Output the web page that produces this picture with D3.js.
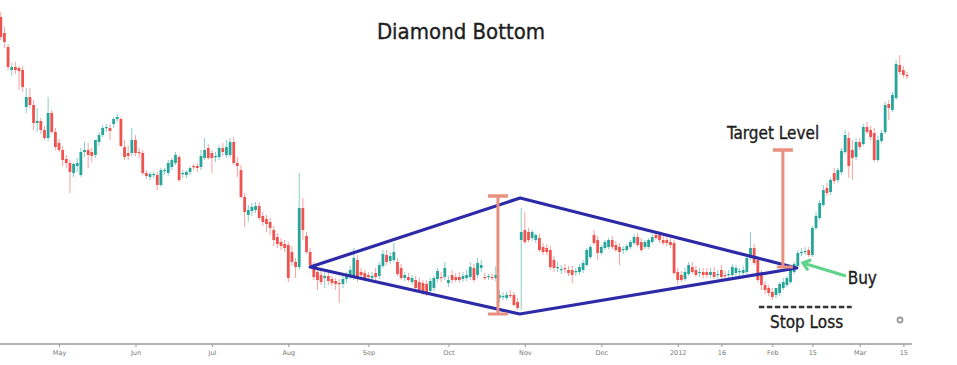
<!DOCTYPE html>
<html>
<head>
<meta charset="utf-8">
<script src="https://cdn.jsdelivr.net/npm/d3@7"></script>
<style>
  body { margin: 0; background: #fff; }
  svg { display: block; }
  .note { font-family: "DejaVu Sans Condensed", "DejaVu Sans", sans-serif; font-stretch: condensed; fill: #1e1e1e; stroke: #1e1e1e; stroke-width: 0.35px; }
  .axis text { font-family: "DejaVu Sans", sans-serif; font-size: 6.5px; fill: #777; }
  .axis line { stroke: #999; }
</style>
</head>
<body>
<script>
// daily candles, [open, high, low, close]
var springCandles = [
  [383,388,360,363],[367,373,352,358],[353,356,330,333],[330,337,324,333],[333,338,326,330],
  [332,334,310,329],[330,334,308,313],[293,312,287,303],[303,312,292,295],[295,300,270,277],
  [277,292,268,279],[279,282,266,270],[270,274,260,262],[262,303,259,287],[287,290,266,268],
  [268,272,250,253],[257,261,248,250],[250,254,234,240],[241,245,232,237],[237,240,207,228],
  [227,237,223,236],[234,242,228,237],[225,252,223,248],[248,258,243,250],[250,257,232,245],
  [248,252,238,244],[245,260,242,260],[258,268,254,265],[265,275,263,272],[272,276,268,273],
  [272,276,260,269],[276,283,272,281],[281,286,278,283],[281,283,253,254],[253,260,240,243],
  [247,255,240,244],[247,272,244,260],[260,265,244,247],[248,252,242,247],[247,250,225,227]
];
var summerCandles = [
  [227,230,221,224],[223,228,220,226],[225,228,222,226],[225,228,210,215],[215,232,213,230],
  [229,232,225,230],[227,240,224,237],[233,242,230,240],[237,248,235,245],[243,245,218,220],
  [226,230,222,227],[225,230,222,228],[228,234,225,232],[234,236,230,233],[234,237,228,232],
  [233,250,230,244],[242,262,240,250],[252,256,240,242],[247,250,227,242],[243,248,238,244],
  [243,255,240,252],[252,257,244,248],[245,260,242,253],[245,262,243,258],[258,263,235,237],
  [237,243,223,234],[230,235,202,203],[203,207,173,188],[185,195,178,190],[189,197,184,193],
  [190,198,187,194],[194,198,180,182],[184,188,174,178],[181,185,168,176],[178,182,165,172],
  [170,174,154,160],[163,167,152,156],[158,162,150,154],[156,160,148,152],[155,158,118,122],
  [148,154,134,138],[138,142,122,133],[133,227,130,192],[192,202,160,170],[164,168,146,148]
];
var autumnCandles = [
  [148,152,132,135],[134,138,120,123],[128,132,110,120],[125,130,115,118],[122,128,112,124],
  [124,128,115,119],[121,124,114,117],[119,122,110,116],[117,121,97,116],[116,124,112,121],
  [121,128,117,126],[124,134,121,130],[123,152,120,142],[140,145,118,121],[128,132,122,125],
  [127,130,120,122],[125,128,120,123],[122,128,118,124],[127,132,120,123],[124,138,121,135],
  [134,150,132,146],[145,150,135,138],[139,148,136,144],[140,157,138,148],[138,142,124,126],
  [132,136,120,122],[122,128,119,125],[123,127,118,120],[118,125,115,122],[120,124,110,112],
  [118,122,108,110],[117,120,105,108],[116,120,104,108],[109,122,106,119],[112,124,109,122],
  [121,132,118,129],[123,128,118,122],[123,138,120,132],[117,124,113,120],[125,130,117,120],
  [123,127,118,120],[123,128,117,120],[121,128,118,124],[122,130,119,125],[123,138,120,133],
  [132,136,118,120],[125,142,122,137],[132,140,128,135],[123,127,120,122],[123,126,120,124],
  [123,126,120,122],[122,134,119,125],[102,110,97,105],[103,108,100,104],[102,108,100,105],
  [105,110,102,104],[105,108,94,95],[98,102,90,92]
];
var winterCandles = [
  [160,192,90,168],[170,188,156,158],[168,172,158,160],[162,170,159,168],[160,167,157,165],
  [162,166,148,150],[153,157,145,148],[152,156,145,148],[150,154,130,133],[140,144,128,132],
  [132,138,128,133],[130,135,126,131],[132,136,127,131],[130,134,124,127],[130,134,117,125],
  [128,132,124,129],[128,136,125,133],[130,140,127,137],[135,152,133,150],[143,155,141,153],
  [165,170,155,157],[160,164,140,147],[147,155,145,153],[152,160,150,158],[153,162,151,160],
  [160,164,151,153],[155,159,148,150],[153,157,135,148],[150,154,146,151],[150,156,148,154],
  [153,160,151,158],[157,166,155,163],[163,167,153,155],[158,162,148,150],[153,160,151,158],
  [153,162,151,160],[158,166,156,163],[165,168,160,162],[165,169,157,160],[160,164,155,157],
  [160,164,154,157],[158,162,152,155],[157,160,125,127],[128,132,115,120]
];
var candles2012 = [
  [125,129,118,120],[121,132,119,128],[126,138,124,135],[133,138,126,128],[130,134,123,125],
  [127,132,123,128],[128,132,122,125],[128,132,122,125],[125,132,122,128],[128,133,121,123],
  [125,130,121,126],[130,135,121,123],[125,129,121,124],[125,130,122,126],[125,136,122,133],
  [127,135,124,132],[128,132,124,129],[127,134,124,130],[128,145,126,142],[142,168,140,152],
  [152,156,135,137],[140,144,118,120],[127,130,110,115],[115,119,106,110],[112,115,104,107],
  [108,112,100,103],[105,112,102,112],[107,118,104,116],[112,122,110,118],[115,124,113,122],
  [118,132,116,130],[128,138,126,136],[134,150,132,147],[147,152,144,148],[148,153,145,149],
  [150,153,143,145],[145,174,143,172],[172,188,170,184],[182,200,180,197],[195,215,193,210],
  [212,217,204,207],[208,222,205,220],[227,232,216,219],[220,232,217,230],[228,252,225,249],
  [248,270,246,265],[262,268,222,234],[250,260,220,242],[243,262,240,258],[258,262,250,253],
  [256,276,254,273],[273,278,266,268],[270,274,260,263],[267,272,238,240],[240,264,238,260],
  [259,270,257,267],[268,298,266,295],[296,300,280,292],[290,308,288,305],[302,340,300,336],
  [335,345,325,328],[330,334,322,325],[325,328,321,324]
];

// time axis labels and the candle index they sit on
var tickIdx = [16, 37, 58, 79, 101, 123, 144, 165, 186, 198, 212, 223, 236, 248];
var tickLabels = ["May", "Jun", "Jul", "Aug", "Sep", "Oct", "Nov", "Dec", "2012", "16", "Feb", "15", "Mar", "15"];

// pattern drawn on top: [candle index, price]
var diamond = [[85, 133], [142.7, 202], [218.7, 132], [142.6, 86]];
var heightBar = {idx: 136.6, lo: 86, hi: 204};
var targetBar = {idx: 214.9, lo: 133, hi: 250};
var stopLoss = {from: 208.3, to: 233.8, price: 93};
var buyArrow = {from: [232.2, 124], to: [220.4, 137]};

var candles = springCandles.concat(summerCandles, autumnCandles, winterCandles, candles2012);

var width = 957, height = 365;
var up = "#26a69a", down = "#ef5350";

var x = d3.scaleLinear().domain([0, candles.length - 1]).range([0.8, 907]);
var y = d3.scaleLinear().domain([56, 400]).range([344, 0]);

var svg = d3.select("body").append("svg")
    .attr("width", width)
    .attr("height", height);

// candles
var bw = 2.8;
var c = svg.append("g").selectAll("g")
    .data(candles)
  .enter().append("g");

c.append("line")
    .attr("x1", function(d, i) { return x(i); })
    .attr("x2", function(d, i) { return x(i); })
    .attr("y1", function(d) { return y(d[1]); })
    .attr("y2", function(d) { return y(d[2]); })
    .attr("stroke", function(d) { return d[3] >= d[0] ? up : down; })
    .attr("stroke-opacity", 0.55)
    .attr("stroke-width", 1);

c.append("rect")
    .attr("x", function(d, i) { return x(i) - bw / 2; })
    .attr("y", function(d) { return y(Math.max(d[0], d[3])); })
    .attr("width", bw)
    .attr("height", function(d) { return Math.max(1.2, Math.abs(y(d[0]) - y(d[3]))); })
    .attr("fill", function(d) { return d[3] >= d[0] ? up : down; });

// x axis
svg.append("line")
    .attr("x1", 0).attr("x2", 912)
    .attr("y1", 344).attr("y2", 344)
    .attr("stroke", "#9a9a9a")
    .attr("stroke-width", 1.5);

var xAxis = d3.axisBottom(x)
    .tickValues(tickIdx)
    .tickFormat(function(d, i) { return tickLabels[i]; })
    .tickSize(3)
    .tickPadding(3);

svg.append("g")
    .attr("class", "axis")
    .attr("transform", "translate(0,344)")
    .call(xAxis)
    .call(function(g) { g.select(".domain").remove(); });

// diamond
var line = d3.line()
    .x(function(d) { return x(d[0]); })
    .y(function(d) { return y(d[1]); })
    .curve(d3.curveLinearClosed);

svg.append("path")
    .attr("d", line(diamond))
    .attr("fill", "none")
    .attr("stroke", "#2d2aa8")
    .attr("stroke-width", 3.2)
    .attr("stroke-linejoin", "round");

// height of the pattern and projected target
var salmon = "#e8907f";
function bar(b, capBottom) {
  var g = svg.append("g").attr("stroke", salmon);
  g.append("line")
      .attr("x1", x(b.idx)).attr("x2", x(b.idx))
      .attr("y1", y(b.hi)).attr("y2", y(b.lo))
      .attr("stroke-width", 3);
  g.append("line")
      .attr("x1", x(b.idx) - 10).attr("x2", x(b.idx) + 10)
      .attr("y1", y(b.hi)).attr("y2", y(b.hi))
      .attr("stroke-width", 3.5);
  g.append("line")
      .attr("x1", x(b.idx) - (capBottom ? 10 : 6)).attr("x2", x(b.idx) + 10)
      .attr("y1", y(b.lo)).attr("y2", y(b.lo))
      .attr("stroke-width", 3);
}
bar(heightBar, true);
bar(targetBar, false);

// stop loss
svg.append("line")
    .attr("x1", x(stopLoss.from)).attr("x2", x(stopLoss.to))
    .attr("y1", y(stopLoss.price)).attr("y2", y(stopLoss.price))
    .attr("stroke", "#333")
    .attr("stroke-width", 2.5)
    .attr("stroke-dasharray", "5.5,2.5");

// buy arrow
svg.append("defs").append("marker")
    .attr("id", "head")
    .attr("markerUnits", "userSpaceOnUse")
    .attr("markerWidth", 14).attr("markerHeight", 14)
    .attr("refX", 9).attr("refY", 7)
    .attr("orient", "auto")
  .append("path")
    .attr("d", "M2,1.5 L9,7 L2,12.5")
    .attr("fill", "none")
    .attr("stroke", "#5fd488")
    .attr("stroke-width", 3);

svg.append("line")
    .attr("x1", x(buyArrow.from[0])).attr("y1", y(buyArrow.from[1]))
    .attr("x2", x(buyArrow.to[0])).attr("y2", y(buyArrow.to[1]))
    .attr("stroke", "#5fd488")
    .attr("stroke-width", 3)
    .attr("marker-end", "url(#head)");

// texts
svg.append("text").attr("class", "note")
    .attr("x", 461).attr("y", 39)
    .attr("text-anchor", "middle")
    .style("font-size", "22px")
    .text("Diamond Bottom");

svg.append("text").attr("class", "note")
    .attr("x", x(212.2)).attr("y", y(261))
    .attr("text-anchor", "middle")
    .style("font-size", "17px")
    .text("Target Level");

svg.append("text").attr("class", "note")
    .attr("x", x(232.7)).attr("y", y(116))
    .style("font-size", "17px")
    .text("Buy");

svg.append("text").attr("class", "note")
    .attr("x", x(221.4)).attr("y", y(72))
    .attr("text-anchor", "middle")
    .style("font-size", "17px")
    .text("Stop Loss");

// small settings icon bottom right
svg.append("circle")
    .attr("cx", 900).attr("cy", 320).attr("r", 2.5)
    .attr("fill", "none")
    .attr("stroke", "#999")
    .attr("stroke-width", 1.8);
</script>
</body>
</html>
